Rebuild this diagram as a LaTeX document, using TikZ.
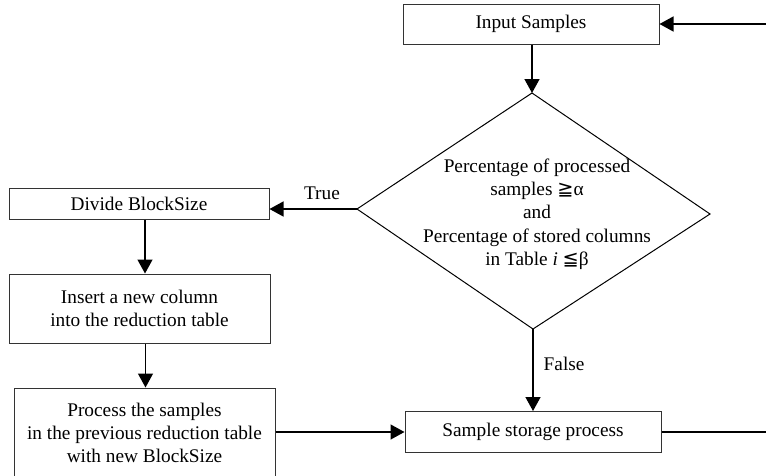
\documentclass[tikz,border=0pt]{standalone}
\usepackage{fontspec}
\setmainfont{Liberation Serif}
\newfontfamily\symfont{DejaVu Sans}
\usetikzlibrary{arrows.meta}
\begin{document}
\begin{tikzpicture}[x=1pt,y=-1pt,
  every node/.style={font=\fontsize{19.3}{23.3}\selectfont},
  box/.style={draw=black!80,line width=1pt,rectangle,inner sep=0pt,align=center},
  arr/.style={line width=1.4pt,-{Triangle[length=14pt,width=15pt]}},
  ln/.style={line width=1.4pt},
  lbl/.style={inner sep=0pt}]
\useasboundingbox (0,0) rectangle (766,475);
\clip (0,0) rectangle (766,475);
\node[box,minimum width=256pt,minimum height=40pt] (input) at (531,24) {Input Samples};
\coordinate (dn) at (532,93);
\coordinate (dw) at (357,209);
\coordinate (de) at (710,214);
\coordinate (ds) at (533,329);
\draw[line width=1pt] (dn) -- (de) -- (ds) -- (dw) -- cycle;
\node[align=center,inner sep=0pt] (dtext) at (537,214) {Percentage of processed\\samples {\symfont≧}α\\and\\Percentage of stored columns\\in Table \textit{i} {\symfont≦}β};
\node[box,minimum width=260pt,minimum height=31pt] (divide) at (139,203.5) {Divide BlockSize};
\node[box,minimum width=261pt,minimum height=69pt] (insert) at (139.5,308.5) {Insert a new column\\into the reduction table};
\node[box,minimum width=261pt,minimum height=90pt] (proc) at (144.5,433) {Process the samples\\in the previous reduction table\\with new BlockSize};
\node[box,minimum width=256pt,minimum height=41pt] (store) at (533,432) {Sample storage process};
\coordinate (rin) at (770,24);
\coordinate (rout) at (770,432);
\draw[arr] (input.south -| dn) -- (dn);
\draw[arr] (dw) -- (dw -| divide.east) node[lbl,pos=0.4,above=9pt] {True};
\draw[arr] ([xshift=6pt]divide.south) -- ([xshift=6pt]divide.south |- insert.north);
\draw[arr] ([xshift=6pt]insert.south) -- ([xshift=6pt]insert.south |- proc.north);
\draw[arr] (proc.east |- store.west) -- (store.west);
\draw[arr] (ds) -- (ds |- store.north) node[lbl,pos=0.42,right=10pt] {False};
\draw[ln] (store.east) -- (rout);
\draw[arr] (rin) -- (input.east);
\end{tikzpicture}
\end{document}
